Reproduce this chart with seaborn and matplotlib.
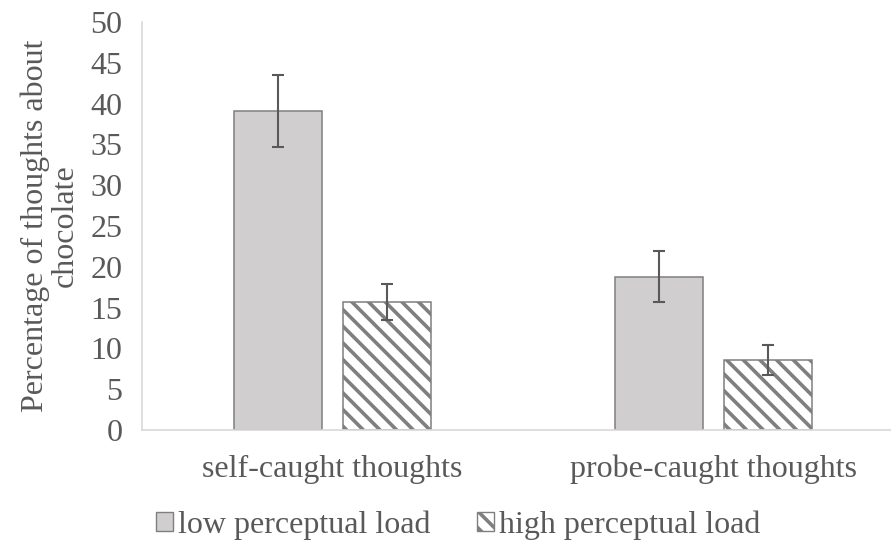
import matplotlib
matplotlib.use("Agg")
import matplotlib.pyplot as plt
import seaborn as sns
import pandas as pd
import numpy as np
from matplotlib.patches import Patch

categories = ["self-caught thoughts", "probe-caught thoughts"]
conditions = ["low perceptual load", "high perceptual load"]
low_values = [39.1, 18.8]
high_values = [15.7, 8.6]
low_errors = [4.4, 3.1]
high_errors = [2.2, 1.8]
y_ticks = [0, 5, 10, 15, 20, 25, 30, 35, 40, 45, 50]
y_label = "Percentage of thoughts about\nchocolate"

sns.set_style("white")
plt.rcParams["font.family"] = ["Liberation Serif", "DejaVu Serif"]
plt.rcParams["hatch.linewidth"] = 2.6
plt.rcParams["hatch.color"] = "#7F7F7F"

text_color = "#595959"
fill_color = "#D0CECE"
edge_color = "#7F7F7F"
axis_color = "#D9D9D9"
FS = 23

df = pd.DataFrame({
    "category": categories * 2,
    "condition": [conditions[0]] * 2 + [conditions[1]] * 2,
    "value": low_values + high_values,
    "err": low_errors + high_errors,
})

fig = plt.figure(figsize=(8.91, 5.47), dpi=100)
W, H = 891, 547
ax = fig.add_axes([142 / W, 1 - 430 / H, (904 - 142) / W, (430 - 22) / H])

sns.barplot(data=df, x="category", y="value", hue="condition", order=categories,
            hue_order=conditions, palette=[fill_color, "white"], width=0.572, gap=0.2,
            errorbar=None, edgecolor=edge_color, linewidth=1.1, legend=False, ax=ax)

errs = low_errors + high_errors
for i, p in enumerate(list(ax.patches)[:4]):
    if i >= 2:
        p.set_hatch("\\\\")
        p.set_facecolor("white")
    cx = p.get_x() + p.get_width() / 2
    ax.errorbar(cx, p.get_height(), yerr=errs[i], color=text_color, elinewidth=1.5,
                capsize=4.5, capthick=1.5, zorder=5)

ax.set_xlim(-0.5, 1.5)
ax.set_ylim(0, 50)
ax.set_yticks(y_ticks)
ax.set_xlabel("")
ax.set_ylabel("")
ax.tick_params(axis="y", length=0, pad=14, labelsize=FS, labelcolor=text_color)
ax.tick_params(axis="x", length=0, pad=18, labelsize=FS, labelcolor=text_color)

fig.text(50 / W, 1 - 226 / H, y_label, rotation=90, ha="center", va="center",
         multialignment="center", fontsize=FS, color=text_color, linespacing=1.0)

for s in ["top", "right"]:
    ax.spines[s].set_visible(False)
for s in ["left", "bottom"]:
    ax.spines[s].set_color(axis_color)
    ax.spines[s].set_linewidth(1.2)

handles = [Patch(facecolor=fill_color, edgecolor=edge_color, linewidth=1.0),
           Patch(facecolor="white", edgecolor=edge_color, hatch="\\\\", linewidth=1.0)]
leg = fig.legend(handles, conditions, loc="center", bbox_to_anchor=(458 / W, 1 - 525 / H),
                 ncol=2, frameon=False, fontsize=FS, handlelength=0.55, handleheight=0.55,
                 handletextpad=0.15, columnspacing=1.45, labelcolor=text_color,
                 borderpad=0, borderaxespad=0)

fig.savefig("out.png", dpi=100)
